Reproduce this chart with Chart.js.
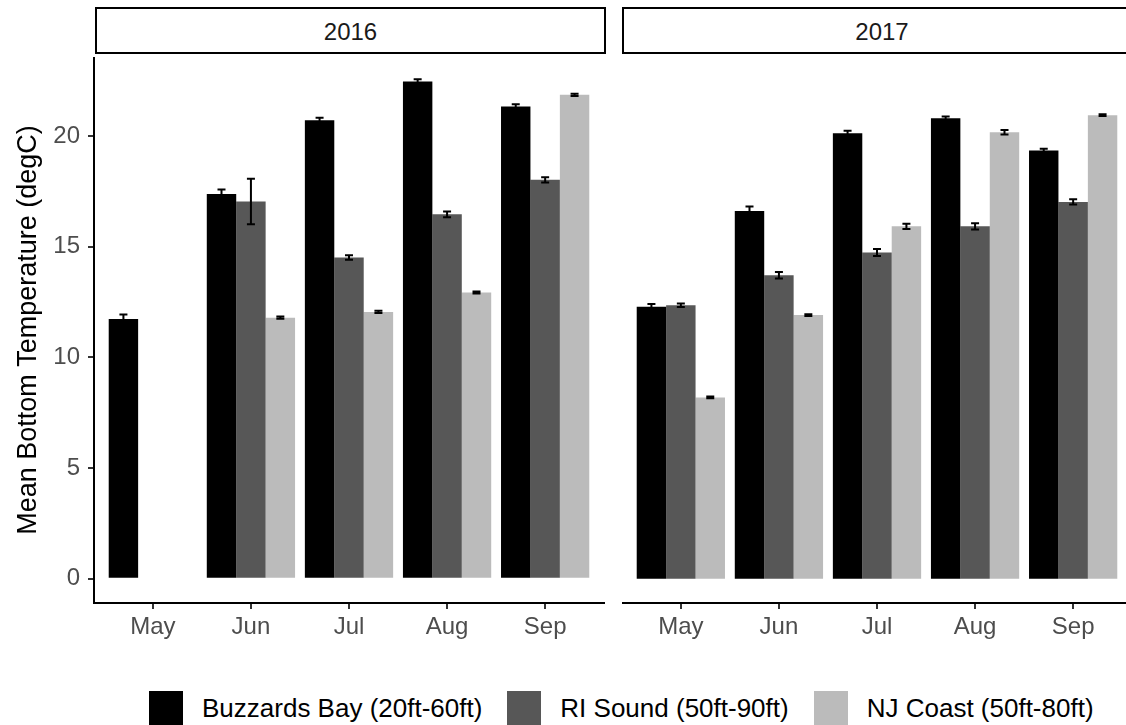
<!DOCTYPE html>
<html>
<head>
<meta charset="utf-8">
<script src="https://cdn.jsdelivr.net/npm/chart.js@4.4.0/dist/chart.umd.min.js"></script>
<style>
    body { margin: 0; width: 1126px; height: 725px; overflow: hidden; background: #fff; position: relative; font-family: "Liberation Sans", Arial, sans-serif; }
    .strip { position: absolute; top: 7px; height: 47px; box-sizing: border-box; border: 2px solid #000; text-align: center; font-size: 24px; line-height: 45px; color: #1a1a1a; }
    canvas { position: absolute; top: 57px; }
    #legend { position: absolute; left: 149px; top: 691px; display: flex; }
    .key { width: 34px; height: 34px; margin-right: 19px; }
    .lab { font-size: 26px; line-height: 34px; margin-right: 25px; color: #000; }
</style>
</head>
<body>
<div class="strip" style="left:95px; width:511px;" id="strip0"></div>
<div class="strip" style="left:622px; width:520px;" id="strip1"></div>
<canvas id="chart2016" width="606" height="620" style="left:0px;"></canvas>
<canvas id="chart2017" width="510" height="620" style="left:622px;"></canvas>
<div id="legend"></div>

<script>
const years = ["2016", "2017"];
const months = ["May", "Jun", "Jul", "Aug", "Sep"];
const seriesNames = ["Buzzards Bay (20ft-60ft)", "RI Sound (50ft-90ft)", "NJ Coast (50ft-80ft)"];
const yTicks = [0, 5, 10, 15, 20];
const yTitle = "Mean Bottom Temperature (degC)";

// 2016 means and error half-widths
const bb2016 = [11.73, 17.38, 20.71, 22.46, 21.33];
const ri2016 = [null, 17.04, 14.51, 16.46, 18.02];
const nj2016 = [null, 11.79, 12.05, 12.93, 21.86];
const bbErr2016 = [0.2, 0.2, 0.12, 0.1, 0.1];
const riErr2016 = [null, 1.03, 0.1, 0.13, 0.12];
const njErr2016 = [null, 0.05, 0.05, 0.05, 0.05];

// 2017
const bb2017 = [12.28, 16.61, 20.12, 20.8, 19.35];
const ri2017 = [12.35, 13.71, 14.74, 15.92, 17.02];
const nj2017 = [8.19, 11.91, 15.92, 20.17, 20.94];
const bbErr2017 = [0.13, 0.2, 0.12, 0.08, 0.08];
const riErr2017 = [0.08, 0.15, 0.16, 0.14, 0.12];
const njErr2017 = [0.04, 0.04, 0.12, 0.1, 0.04];

const seriesColors = ["#000000", "#575757", "#bbbbbb"];
const fontFamily = '"Liberation Sans", Arial, sans-serif';

// draws the error bars on top of the bars
const errorBars = {
    id: "errorBars",
    afterDatasetsDraw(chart) {
        const ctx = chart.ctx;
        const yScale = chart.scales.y;
        ctx.save();
        ctx.strokeStyle = "#000";
        ctx.lineWidth = 2;
        chart.data.datasets.forEach((ds, k) => {
            chart.getDatasetMeta(k).data.forEach((bar, i) => {
                const v = ds.data[i].y, e = ds.errors[i];
                if (v == null || e == null) return;
                const top = yScale.getPixelForValue(v + e);
                const bot = yScale.getPixelForValue(v - e);
                ctx.beginPath();
                ctx.moveTo(bar.x, top); ctx.lineTo(bar.x, bot);
                ctx.moveTo(bar.x - 4, top); ctx.lineTo(bar.x + 4, top);
                ctx.moveTo(bar.x - 4, bot); ctx.lineTo(bar.x + 4, bot);
                ctx.stroke();
            });
        });
        ctx.restore();
    }
};

function makeDatasets(values, errors) {
    return seriesNames.map((name, k) => ({
        label: name,
        data: months.map((m, i) => ({ x: i, y: values[k][i] })),
        errors: errors[k],
        backgroundColor: seriesColors[k],
        borderWidth: 0,
        categoryPercentage: 0.9,
        barPercentage: 1.0
    }));
}

// no extra padding from tick labels, so both panels line up
function noPad(s) {
    s.paddingTop = 0; s.paddingBottom = 0; s.paddingLeft = 0; s.paddingRight = 0;
}

function makeOptions(showY) {
    const axisGrid = { display: true, drawOnChartArea: false, drawTicks: true, tickLength: 6, color: "#333", lineWidth: 2, offset: false };
    const axisBorder = { display: true, color: "#000", width: 2 };
    return {
        responsive: false,
        animation: false,
        devicePixelRatio: 1,
        layout: { padding: { top: 0, right: showY ? 2 : 0, left: 0, bottom: 0 } },
        plugins: { legend: { display: false }, tooltip: { enabled: false } },
        scales: {
            x: {
                type: "linear",
                offset: false,
                min: -0.6,
                max: months.length - 0.4,
                afterBuildTicks: s => { s.ticks = months.map((m, i) => ({ value: i })); },
                afterFit: s => { s.height = 74; noPad(s); },
                ticks: {
                    callback: v => months[v],
                    font: { size: 24, family: fontFamily },
                    color: "#4d4d4d",
                    padding: 4,
                    maxRotation: 0,
                    autoSkip: false
                },
                grid: axisGrid,
                border: axisBorder
            },
            y: {
                display: showY,
                min: -1.1,
                max: 23.57,
                afterBuildTicks: s => { s.ticks = yTicks.map(v => ({ value: v })); },
                afterFit: s => { s.width = showY ? 94 : 0; noPad(s); },
                ticks: { font: { size: 24, family: fontFamily }, color: "#4d4d4d", padding: 8 },
                grid: axisGrid,
                border: axisBorder,
                title: {
                    display: true,
                    text: yTitle,
                    color: "#000",
                    font: { size: 27, family: fontFamily },
                    padding: { top: 12, bottom: 0 }
                }
            }
        }
    };
}

new Chart(document.getElementById("chart2016"), {
    type: "bar",
    data: { datasets: makeDatasets([bb2016, ri2016, nj2016], [bbErr2016, riErr2016, njErr2016]) },
    options: makeOptions(true),
    plugins: [errorBars]
});

new Chart(document.getElementById("chart2017"), {
    type: "bar",
    data: { datasets: makeDatasets([bb2017, ri2017, nj2017], [bbErr2017, riErr2017, njErr2017]) },
    options: makeOptions(false),
    plugins: [errorBars]
});

// facet strips and legend
years.forEach((y, i) => { document.getElementById("strip" + i).textContent = y; });
const legend = document.getElementById("legend");
seriesNames.forEach((name, k) => {
    const key = document.createElement("div");
    key.className = "key";
    key.style.background = seriesColors[k];
    const lab = document.createElement("div");
    lab.className = "lab";
    lab.textContent = name;
    legend.appendChild(key);
    legend.appendChild(lab);
});
</script>
</body>
</html>
